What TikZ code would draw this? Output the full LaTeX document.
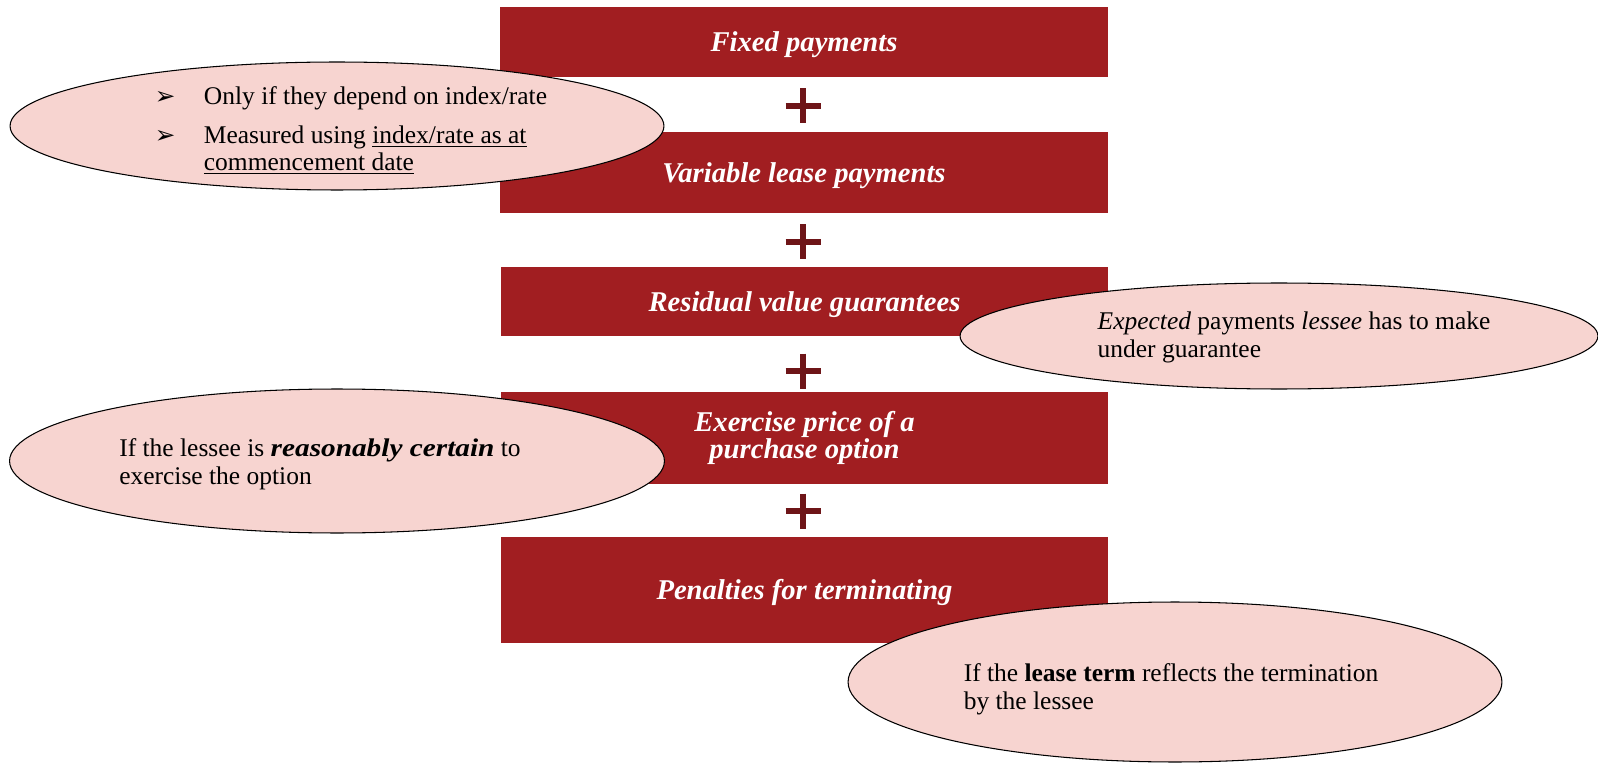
\documentclass[tikz,border=0pt]{standalone}
\usepackage{fontspec}
\setmainfont{Liberation Serif}
\newfontfamily\arrowfont{DejaVu Sans}
\usepackage{graphicx}
\usepackage{tikz}
\usetikzlibrary{shapes.geometric}

\definecolor{leasered}{HTML}{A11E21}
\definecolor{plusred}{HTML}{6E1518}
\definecolor{notepink}{HTML}{F7D4D0}

\newcommand{\arrowbullet}{{\arrowfont\fontsize{14}{14}\selectfont ➢}}
% lowers a note text by half of #1 inside its ellipse
\newcommand{\dropnote}[2]{\raisebox{0pt}[\height][\dimexpr\depth-#1\relax]{#2}}

\begin{document}
\begin{tikzpicture}[x=0.02cm, y=-0.02cm,
  paybox/.style={fill=leasered, text=white, minimum width=12.16cm, align=center,
    text height=12.5pt, text depth=1.6pt,
    font=\fontsize{16.3}{15.5}\selectfont\bfseries\itshape},
  note/.style={ellipse, draw=black, line width=0.6pt, fill=notepink, align=left,
    inner sep=0pt, font=\fontsize{14.5}{15.6}\selectfont},
  plussign/.style={draw=plusred, line width=2.9pt}]
\useasboundingbox (0,0) rectangle (1598,763);

% the lease payments
\node[paybox, minimum height=1.40cm] (fixed) at (804,42) {Fixed payments};

\node[paybox, minimum height=1.62cm] (variable) at (804,172.5) {Variable lease payments};

\node[paybox, minimum height=1.38cm] (residual) at (804.5,301.5) {Residual value guarantees};

\node[paybox, minimum height=1.86cm, text height=, text depth=] (exercise) at (804.5,438)
{Exercise price of a\\purchase option};

\node[paybox, minimum height=2.12cm] (penalties) at (804.5,590) {Penalties for terminating};

% plus signs between the boxes
\coordinate (plus1) at (803,106);
\coordinate (plus2) at (803,242);
\coordinate (plus3) at (803,371);
\coordinate (plus4) at (803,511);
\foreach \p in {plus1,plus2,plus3,plus4}
  \draw[plussign] (\p) ++(-17.5,0) -- ++(35,0) (\p) ++(0,-17.5) -- ++(0,35);

% notes
\node[note, minimum width=13.08cm, minimum height=2.56cm] (varnote) at (337,126)
{\dropnote{0.24cm}{\begin{tabular}{@{\hspace{0.56cm}}p{0.98cm}@{}l@{}}
\arrowbullet & Only if they depend on index/rate\\[6.8pt]
\arrowbullet & Measured using \underline{index/rate as at}\\
 & \underline{commencement date}
\end{tabular}}};

\node[note, minimum width=12.76cm, minimum height=2.12cm] (resnote) at (1279,336)
{\dropnote{0.08cm}{\begin{tabular}{@{\hspace{0.6cm}}l@{}}
\emph{Expected} payments \emph{lessee} has to make\\
under guarantee
\end{tabular}}};

\node[note, minimum width=13.1cm, minimum height=2.88cm] (exnote) at (337,461)
{\dropnote{0.16cm}{\begin{tabular}{@{}l@{\hspace{0.68cm}}}
If the lessee is \scalebox{1.15}[1]{\textbf{\textit{reasonably certain}}} to\\
exercise the option
\end{tabular}}};

\node[note, minimum width=13.08cm, minimum height=3.2cm] (pennote) at (1175,682)
{\dropnote{0.32cm}{\begin{tabular}{@{}l@{\hspace{0.16cm}}}
If the \textbf{lease term} reflects the termination\\
by the lessee
\end{tabular}}};

\end{tikzpicture}
\end{document}
